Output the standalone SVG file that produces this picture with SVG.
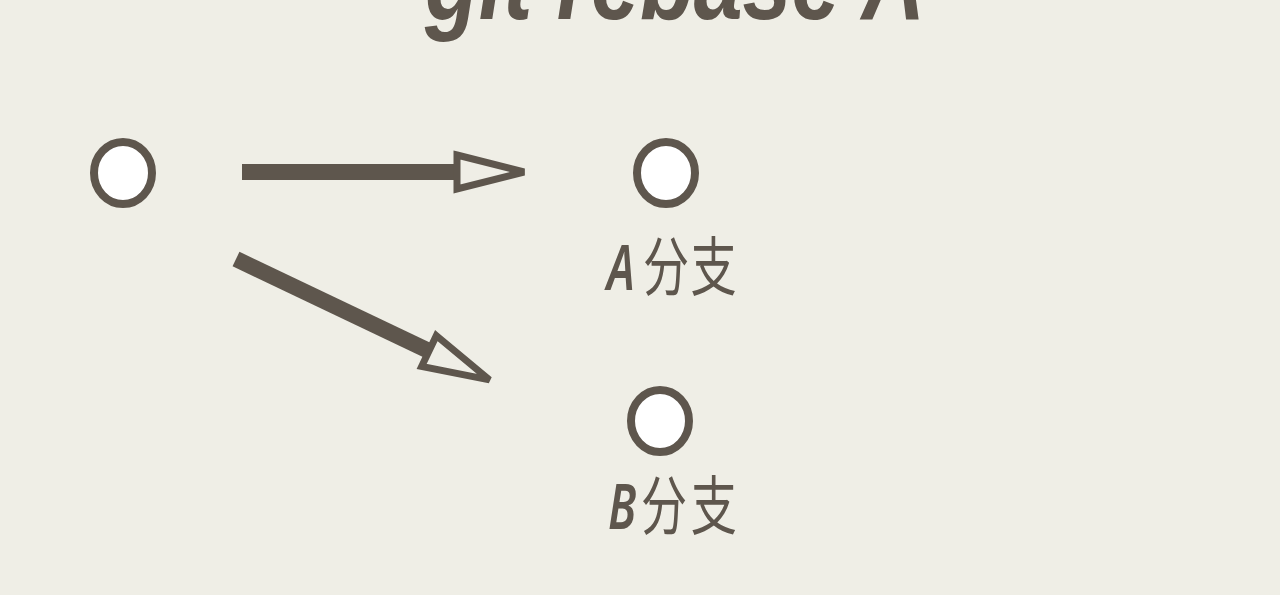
<svg xmlns="http://www.w3.org/2000/svg" width="1280" height="595" viewBox="0 0 1280 595">
<style>
.bg{fill:#efeee6}
.node{fill:#ffffff;stroke:#5e564d;stroke-width:8}
.edge{stroke:#5e564d;stroke-width:16;fill:none}
.head{fill:#efeee6;stroke:#5e564d;stroke-width:7;stroke-linejoin:miter;stroke-miterlimit:3}
.title{font-family:"Liberation Sans",Arial,sans-serif;font-weight:bold;font-style:italic;fill:#5e564d}
.label{font-family:"Noto Sans CJK SC","Noto Sans",sans-serif;fill:#5e564d;font-size:64px}
.lat{font-family:"Noto Sans","Liberation Sans",sans-serif;font-style:italic;font-weight:600;font-size:64px}
</style>
<defs>
<marker id="arrow" markerUnits="userSpaceOnUse" viewBox="-10 -30 90 60" markerWidth="90" markerHeight="60" refX="0" refY="0" orient="auto" overflow="visible">
<path class="head" d="M0,-17 L67,0 L0,17 Z"/>
</marker>
</defs>
<rect class="bg" x="0" y="0" width="1280" height="595"/>
<g id="title">
<text class="title" x="425" y="19" font-size="110" textLength="500" lengthAdjust="spacingAndGlyphs">git rebase A</text>
</g>
<g id="connectors">
<line class="edge" x1="242" y1="172" x2="457" y2="172" marker-end="url(#arrow)"/>
<line class="edge" x1="236" y1="259" x2="429" y2="351" marker-end="url(#arrow)"/>
</g>
<g id="node-start">
<ellipse class="node" cx="123" cy="173" rx="29" ry="31"/>
</g>
<g id="node-a">
<ellipse class="node" cx="666" cy="173" rx="29" ry="31"/>
<text class="label" transform="translate(607,290) scale(0.72,1)"><tspan class="lat" x="0" y="0">A</tspan><tspan x="50" y="0">分</tspan><tspan x="116" y="0">支</tspan></text>
</g>
<g id="node-b">
<ellipse class="node" cx="660" cy="421" rx="29" ry="31"/>
<text class="label" transform="translate(608,529) scale(0.72,1)"><tspan class="lat" x="0" y="0">B</tspan><tspan x="46" y="0">分</tspan><tspan x="115" y="0">支</tspan></text>
</g>
</svg>
